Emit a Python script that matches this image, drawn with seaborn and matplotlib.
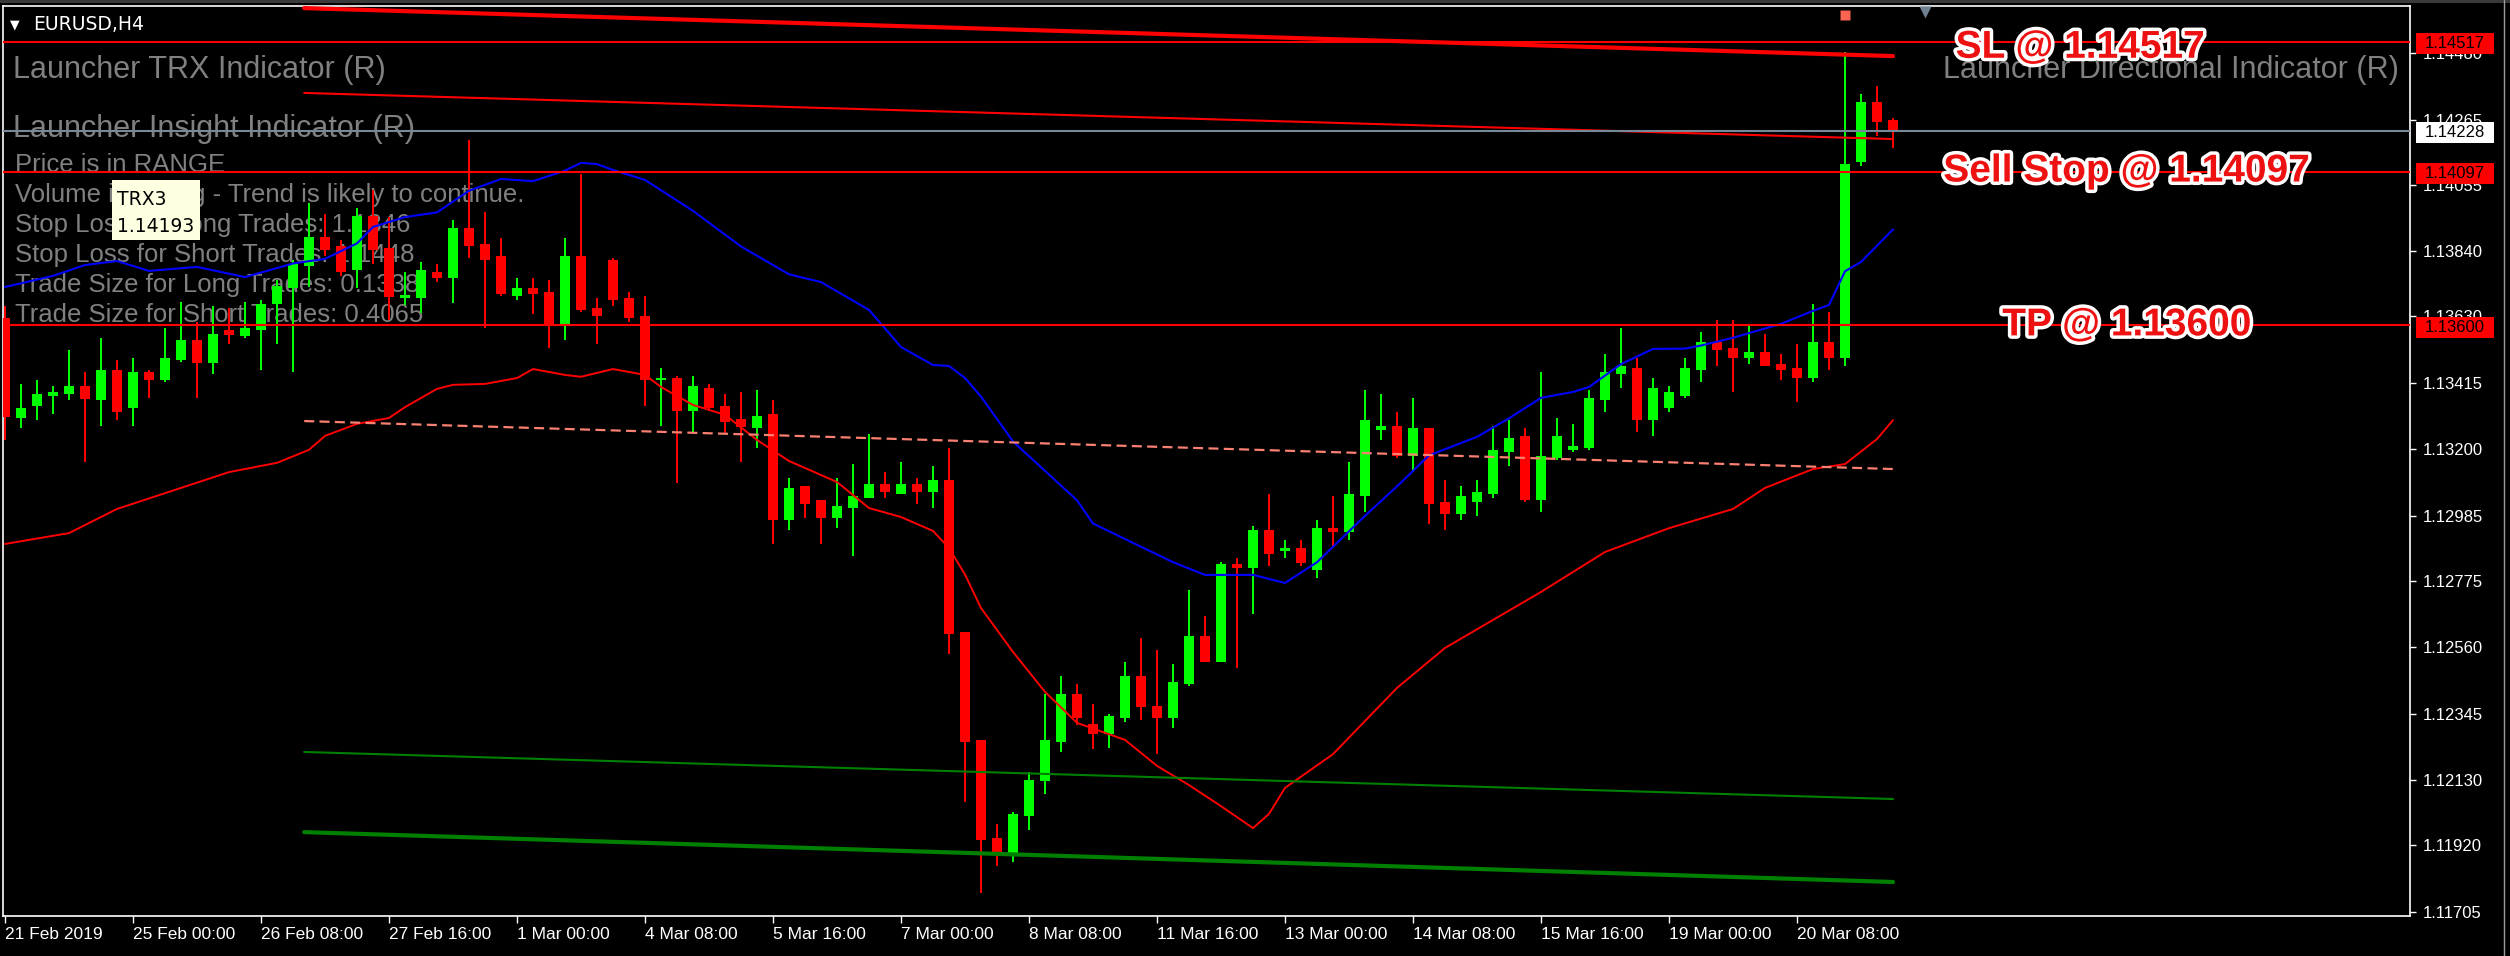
import matplotlib
matplotlib.use("Agg")
import matplotlib.pyplot as plt
import matplotlib.patheffects as pe
import matplotlib.transforms as mtrans
from matplotlib.patches import Rectangle
from matplotlib.lines import Line2D
import numpy as np
import seaborn as sns

# EURUSD H4 candles (one per bar, left to right)
opens = [1.13624, 1.13301, 1.13340, 1.13372, 1.13378, 1.13404, 1.13359, 1.13456, 1.13333, 1.13450,
         1.13424, 1.13488, 1.13553, 1.13479, 1.13585, 1.13566, 1.13585, 1.13669, 1.13721, 1.13792,
         1.13886, 1.13857, 1.13779, 1.13953, 1.13850, 1.13689, 1.13689, 1.13773, 1.13753, 1.13915,
         1.13863, 1.13824, 1.13695, 1.13721, 1.13708, 1.13605, 1.13824, 1.13656, 1.13811, 1.13689,
         1.13630, 1.13424, 1.13430, 1.13324, 1.13398, 1.13340, 1.13298, 1.13269, 1.13314, 1.12971,
         1.13081, 1.13036, 1.12978, 1.13010, 1.13042, 1.13088, 1.13055, 1.13088, 1.13062, 1.13101,
         1.12610, 1.12261, 1.11944, 1.11892, 1.12015, 1.12128, 1.12254, 1.12409, 1.12312, 1.12280,
         1.12332, 1.12467, 1.12371, 1.12332, 1.12442, 1.12597, 1.12513, 1.12829, 1.12816, 1.12939,
         1.12871, 1.12881, 1.12810, 1.12945, 1.12933, 1.13049, 1.13262, 1.13275, 1.13178, 1.13269,
         1.13030, 1.12991, 1.13030, 1.13055, 1.13191, 1.13243, 1.13036, 1.13172, 1.13198, 1.13204,
         1.13359, 1.13443, 1.13462, 1.13294, 1.13333, 1.13372, 1.13456, 1.13546, 1.13527, 1.13495,
         1.13514, 1.13475, 1.13462, 1.13430, 1.13546, 1.13495, 1.14128, 1.14322, 1.14264]
highs = [1.13663, 1.13411, 1.13424, 1.13404, 1.13521, 1.13450, 1.13559, 1.13488, 1.13495, 1.13456,
         1.13592, 1.13676, 1.13611, 1.13663, 1.13656, 1.13676, 1.13682, 1.13747, 1.13811, 1.13995,
         1.13960, 1.13876, 1.13979, 1.14037, 1.13950, 1.13773, 1.13805, 1.13798, 1.13940, 1.14199,
         1.13966, 1.13882, 1.13753, 1.13753, 1.13747, 1.13882, 1.14089, 1.13689, 1.13818, 1.13708,
         1.13695, 1.13462, 1.13437, 1.13437, 1.13411, 1.13378, 1.13385, 1.13391, 1.13359, 1.13107,
         1.13081, 1.13036, 1.13107, 1.13152, 1.13249, 1.13126, 1.13159, 1.13107, 1.13146, 1.13204,
         1.12610, 1.12261, 1.11989, 1.12028, 1.12157, 1.12409, 1.12467, 1.12442, 1.12377, 1.12345,
         1.12513, 1.12590, 1.12551, 1.12506, 1.12745, 1.12661, 1.12836, 1.12849, 1.12952, 1.13055,
         1.12907, 1.12907, 1.12971, 1.13049, 1.13159, 1.13391, 1.13378, 1.13320, 1.13366, 1.13269,
         1.13101, 1.13081, 1.13101, 1.13275, 1.13294, 1.13269, 1.13450, 1.13301, 1.13282, 1.13391,
         1.13508, 1.13592, 1.13495, 1.13430, 1.13404, 1.13495, 1.13579, 1.13617, 1.13617, 1.13598,
         1.13572, 1.13508, 1.13540, 1.13669, 1.13643, 1.14483, 1.14348, 1.14373, 1.14270]
lows = [1.13230, 1.13269, 1.13294, 1.13314, 1.13359, 1.13159, 1.13275, 1.13294, 1.13275, 1.13366,
        1.13417, 1.13482, 1.13366, 1.13443, 1.13540, 1.13559, 1.13456, 1.13540, 1.13450, 1.13724,
        1.13824, 1.13760, 1.13721, 1.13798, 1.13617, 1.13666, 1.13640, 1.13740, 1.13672, 1.13818,
        1.13592, 1.13695, 1.13682, 1.13637, 1.13527, 1.13553, 1.13643, 1.13540, 1.13663, 1.13611,
        1.13340, 1.13275, 1.13091, 1.13252, 1.13324, 1.13249, 1.13159, 1.13204, 1.12894, 1.12939,
        1.12978, 1.12894, 1.12945, 1.12855, 1.13042, 1.13042, 1.13055, 1.13023, 1.13010, 1.12539,
        1.12060, 1.11766, 1.11854, 1.11867, 1.11970, 1.12086, 1.12222, 1.12309, 1.12232, 1.12235,
        1.12319, 1.12325, 1.12215, 1.12299, 1.12435, 1.12513, 1.12513, 1.12493, 1.12668, 1.12823,
        1.12849, 1.12823, 1.12784, 1.12887, 1.12907, 1.12997, 1.13230, 1.13172, 1.13126, 1.12958,
        1.12939, 1.12971, 1.12984, 1.13042, 1.13146, 1.13030, 1.12997, 1.13165, 1.13191, 1.13198,
        1.13320, 1.13398, 1.13256, 1.13243, 1.13320, 1.13366, 1.13417, 1.13469, 1.13385, 1.13475,
        1.13469, 1.13424, 1.13353, 1.13417, 1.13456, 1.13469, 1.14115, 1.14212, 1.14173]
closes = [1.13304, 1.13333, 1.13378, 1.13385, 1.13404, 1.13362, 1.13456, 1.13320, 1.13450, 1.13424,
          1.13495, 1.13553, 1.13479, 1.13572, 1.13569, 1.13592, 1.13669, 1.13727, 1.13798, 1.13886,
          1.13844, 1.13773, 1.13953, 1.13844, 1.13692, 1.13698, 1.13779, 1.13753, 1.13915, 1.13857,
          1.13811, 1.13701, 1.13721, 1.13701, 1.13605, 1.13824, 1.13650, 1.13630, 1.13682, 1.13624,
          1.13424, 1.13430, 1.13324, 1.13404, 1.13333, 1.13288, 1.13272, 1.13307, 1.12971, 1.13075,
          1.13023, 1.12978, 1.13017, 1.13049, 1.13088, 1.13062, 1.13088, 1.13062, 1.13101, 1.12603,
          1.12254, 1.11938, 1.11892, 1.12022, 1.12131, 1.12261, 1.12409, 1.12332, 1.12280, 1.12338,
          1.12467, 1.12367, 1.12332, 1.12448, 1.12597, 1.12513, 1.12829, 1.12816, 1.12939, 1.12862,
          1.12881, 1.12832, 1.12945, 1.12933, 1.13055, 1.13294, 1.13275, 1.13178, 1.13269, 1.13023,
          1.12991, 1.13049, 1.13062, 1.13198, 1.13236, 1.13036, 1.13178, 1.13243, 1.13210, 1.13366,
          1.13450, 1.13469, 1.13294, 1.13398, 1.13385, 1.13462, 1.13546, 1.13521, 1.13495, 1.13514,
          1.13469, 1.13456, 1.13430, 1.13546, 1.13495, 1.14121, 1.14322, 1.14257, 1.14228]

# blue (fast) moving average, read at selected bars
blue_bars = [0, 3, 5, 7, 9, 12, 15, 18, 20, 22, 23, 25, 27, 29, 31, 33, 35, 36, 37, 38,
             40, 43, 46, 49, 51, 54, 56, 58, 59, 60, 61, 63, 65, 67, 68, 70, 73, 75, 78, 80,
             82, 85, 87, 89, 92, 94, 96, 98, 99, 101, 103, 105, 106, 108, 111, 113, 114, 115, 116, 118]
blue_vals = [1.13724, 1.13760, 1.13795, 1.13808, 1.13776, 1.13789, 1.13756, 1.13800, 1.13815, 1.13865,
             1.13918, 1.13950, 1.13965, 1.14035, 1.14073, 1.14066, 1.14100, 1.14125, 1.14121, 1.14102,
             1.14070, 1.13970, 1.13855, 1.13765, 1.13740, 1.13650, 1.13530, 1.13472, 1.13469, 1.13430,
             1.13370, 1.13225, 1.13130, 1.13035, 1.12960, 1.12910, 1.12835, 1.12794, 1.12794, 1.12768,
             1.12835, 1.12985, 1.13080, 1.13180, 1.13240, 1.13300, 1.13366, 1.13385, 1.13401, 1.13475,
             1.13524, 1.13525, 1.13535, 1.13560, 1.13605, 1.13647, 1.13666, 1.13775, 1.13805, 1.13910]

# red (slow) moving average
red_bars = [0, 4, 7, 11, 14, 17, 19, 20, 22, 24, 25, 27, 28, 30, 32, 33, 35, 36, 38, 40,
            41, 43, 45, 47, 49, 52, 54, 56, 58, 59, 60, 61, 63, 65, 67, 70, 72, 74, 76, 78,
            79, 80, 83, 87, 90, 96, 100, 104, 108, 110, 113, 115, 117, 118]
red_vals = [1.12894, 1.12929, 1.13007, 1.13075, 1.13126, 1.13156, 1.13198, 1.13243, 1.13282, 1.13301,
            1.13336, 1.13395, 1.13408, 1.13411, 1.13430, 1.13459, 1.13440, 1.13434, 1.13459, 1.13440,
            1.13401, 1.13343, 1.13311, 1.13230, 1.13162, 1.13094, 1.13010, 1.12981, 1.12936, 1.12881,
            1.12795, 1.12687, 1.12545, 1.12416, 1.12316, 1.12261, 1.12177, 1.12115, 1.12047, 1.11976,
            1.12022, 1.12106, 1.12215, 1.12429, 1.12558, 1.12739, 1.12868, 1.12945, 1.13007, 1.13075,
            1.13136, 1.13152, 1.13233, 1.13294]

# sloping indicator lines: start bar / end bar and prices there
chan_bars = [18.7, 118]
salmon_vals = [1.13291, 1.13136]
green_hi_vals = [1.12222, 1.12070]
green_lo_vals = [1.11963, 1.11802]
red_top_vals = [1.14625, 1.14470]
red_mid_vals = [1.14351, 1.14202]

# trade levels
sl_level = 1.14517
sell_stop = 1.14097
tp_level = 1.13600
bid = 1.14228

xtick_labels = ["21 Feb 2019", "25 Feb 00:00", "26 Feb 08:00", "27 Feb 16:00", "1 Mar 00:00",
                "4 Mar 08:00", "5 Mar 16:00", "7 Mar 00:00", "8 Mar 08:00", "11 Mar 16:00",
                "13 Mar 00:00", "14 Mar 08:00", "15 Mar 16:00", "19 Mar 00:00", "20 Mar 08:00"]
ytick_labels = ["1.14480", "1.14265", "1.14055", "1.13840", "1.13630", "1.13415", "1.13200",
                "1.12985", "1.12775", "1.12560", "1.12345", "1.12130", "1.11920", "1.11705"]

info_lines = ["Price is in RANGE",
              "Volume is Rising - Trend is likely to continue.",
              "Stop Loss for Long Trades: 1.1346",
              "Stop Loss for Short Trades: 1.1448",
              "Trade Size for Long Trades: 0.1338",
              "Trade Size for Short Trades: 0.4065"]

sns.set_style("dark")
plt.rcParams['font.family'] = ['Liberation Sans', 'DejaVu Sans']

W, H = 2510, 956
fig = plt.figure(figsize=(W / 100, H / 100), dpi=100, facecolor='black')
ax = fig.add_axes([3 / W, 40 / H, 2407 / W, 910 / H])
ax.set_facecolor('black')
ax.grid(False)


def fp(x, y):
    # pixel position (from top-left) -> figure fraction
    return x / W, 1 - y / H


# gray indicator captions, under the candles
for txt, x, y, ha in [("Launcher TRX Indicator (R)", 13, 78, 'left'),
                      ("Launcher Insight Indicator (R)", 13, 137, 'left'),
                      ("Launcher Directional Indicator (R)", 2399, 78, 'right')]:
    ax.text(*fp(x, y), txt, transform=fig.transFigure, color='#808080', fontsize=22,
            ha=ha, va='baseline', zorder=1)
for k, txt in enumerate(info_lines):
    ax.text(*fp(15, 172 + 30 * k), txt, transform=fig.transFigure, color='#808080',
            fontsize=18.5, ha='left', va='baseline', zorder=1)

# candles
o = np.array(opens)
c = np.array(closes)
bars = np.arange(len(o))
col = np.where(c >= o, '#00FF00', '#FF0000')
ax.vlines(bars, lows, highs, colors=col, linewidth=1.45, zorder=3)
ax.bar(bars, np.maximum(np.abs(c - o), 0.00006), bottom=np.minimum(o, c), width=0.625,
       color=col, linewidth=0, zorder=4)

# moving averages
sns.lineplot(x=blue_bars, y=blue_vals, color='#0000FF', linewidth=1.5, ax=ax, zorder=5)
sns.lineplot(x=red_bars, y=red_vals, color='#FF0000', linewidth=1.4, ax=ax, zorder=5)

# channel lines
ax.plot(chan_bars, salmon_vals, color='#FA8072', lw=1.6, ls=(0, (4.5, 2.4)), zorder=5)
ax.plot(chan_bars, green_hi_vals, color='#008000', lw=1.5, zorder=5)
ax.plot(chan_bars, green_lo_vals, color='#008000', lw=3.0, zorder=5)
ax.plot(chan_bars, red_top_vals, color='#FF0000', lw=3.0, zorder=5)
ax.plot(chan_bars, red_mid_vals, color='#FF0000', lw=1.5, zorder=5)

# horizontal lines
for lvl in [sl_level, sell_stop, tp_level]:
    ax.axhline(lvl, color='#FF0000', lw=1.5, zorder=6)
ax.axhline(bid, color='#778899', lw=1.5, zorder=6)

# small markers at top
ax.plot([115], [1.14603], marker='s', ms=7, color='#FA6450', mec='none', zorder=7)
ax.plot([120], [1.14612], marker='v', ms=9, color='#708090', mec='none', zorder=7, clip_on=False)

# big annotations
for txt, xb, lvl, dy in [("SL @ 1.14517", 129.7, sl_level, -4.5),
                         ("Sell Stop @ 1.14097", 132.6, sell_stop, 0),
                         ("TP @ 1.13600", 132.6, tp_level, 0)]:
    ax.annotate(txt, xy=(xb, lvl), xytext=(0, dy), textcoords='offset points',
                color='#EE1111', fontsize=28, fontweight='bold', ha='center', va='center',
                path_effects=[pe.withStroke(linewidth=5, foreground='white')], zorder=12)

# axes, ticks
ax.set_xlim(-0.125, 150.31)
ax.set_ylim(1.116921, 1.146318)
ax.yaxis.tick_right()
ax.set_yticks([float(s) for s in ytick_labels])
ax.set_yticklabels(ytick_labels)
ax.set_xticks(np.arange(len(xtick_labels)) * 8)
ax.set_xticklabels(xtick_labels, ha='left')
ax.tick_params(axis='y', right=True, left=False, colors='white', labelcolor='white',
               length=4, width=1, direction='out', pad=5, labelsize=12)
ax.tick_params(axis='x', bottom=True, colors='white', labelcolor='white',
               length=5, width=1, direction='out', pad=3, labelsize=12.5)
for s in ax.spines.values():
    s.set_color('white')
    s.set_linewidth(1.2)

# price boxes on the right scale
bt = mtrans.blended_transform_factory(ax.transAxes, ax.transData)
box_h = 21 / 30955
for lvl, fc in [(sl_level, '#FF0000'), (bid, '#FFFFFF'), (sell_stop, '#FF0000'), (tp_level, '#FF0000')]:
    ax.add_patch(Rectangle((1.0025, lvl - box_h / 2 - 0.00006), 0.0324, box_h, transform=bt,
                           facecolor=fc, edgecolor='none', clip_on=False, zorder=10))
    ax.text(1.0187, lvl - 0.00006, f"{lvl:.5f}", transform=bt, color='black', fontsize=12,
            ha='center', va='center', zorder=11, clip_on=False)

# tooltip
fig.add_artist(Rectangle(fp(112, 240), 88 / W, 60 / H, transform=fig.transFigure,
                         facecolor='#FFFFE1', edgecolor='none', zorder=20))
fig.text(*fp(117, 205), "TRX3", color='black', fontsize=13.5, family='DejaVu Sans',
         va='baseline', zorder=21)
fig.text(*fp(117, 232), "1.14193", color='black', fontsize=13.5, family='DejaVu Sans',
         va='baseline', zorder=21)

# window chrome
fig.add_artist(Rectangle((0, 1 - 3 / H), 1, 3 / H, transform=fig.transFigure,
                         facecolor='#3a3a3a', edgecolor='none'))
fig.add_artist(Line2D([2504 / W] * 2, [0, 1], transform=fig.transFigure, color='#9a9a9a', lw=1))
fig.text(*fp(10, 28), "\u25BC", color='white', fontsize=9, family='DejaVu Sans', va='baseline')
fig.text(*fp(33, 30), "EURUSD,H4", color='white', fontsize=13.5, family='DejaVu Sans',
         va='baseline')

fig.savefig('out.png', dpi=100, facecolor='black')
